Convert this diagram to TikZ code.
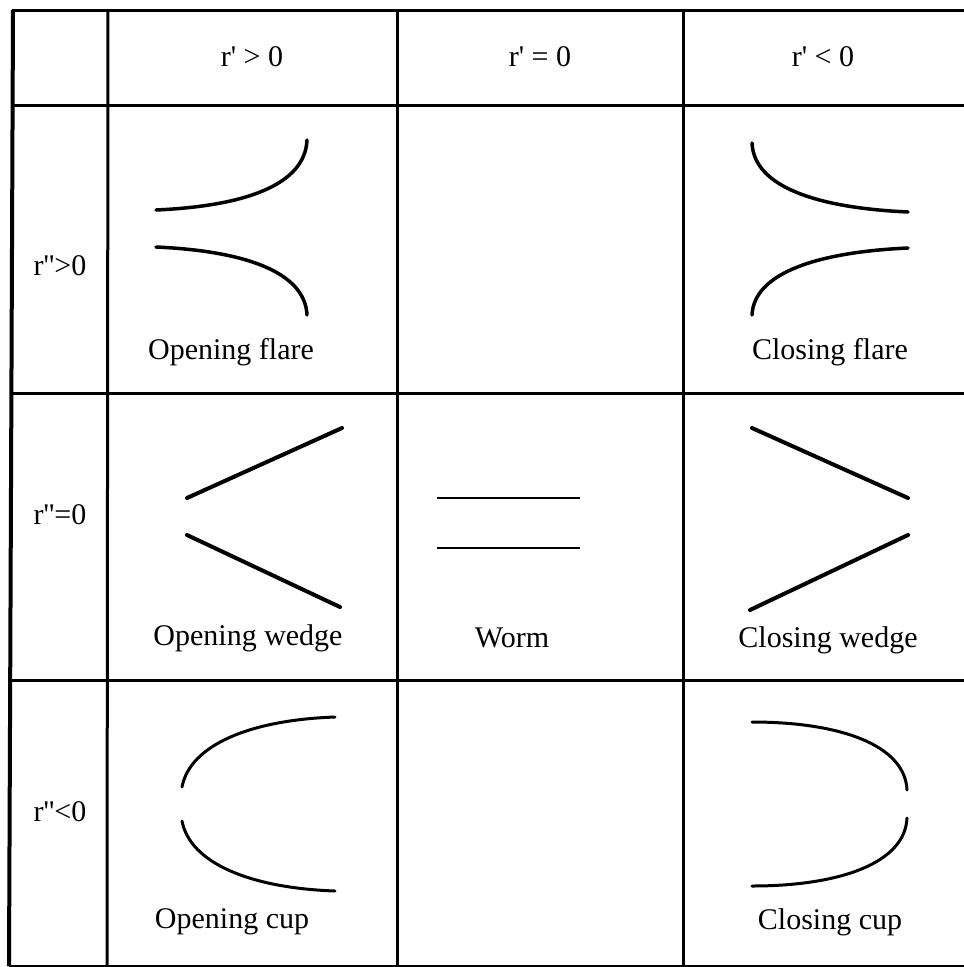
\documentclass[tikz,border=0pt]{standalone}
\usepackage{fontspec}
\setmainfont{Liberation Serif}[Ligatures=TeXOff]

\begin{document}
\begin{tikzpicture}[
  x=1pt, y=-1pt,
  regel/.style={line width=3pt},
  kop/.style={font=\fontsize{30}{36}\selectfont},
  naam/.style={font=\fontsize{30}{36}\selectfont},
  vorm/.style={line width=3.5pt, line cap=round},
  wig/.style={line width=4pt, line cap=round},
  dun/.style={line width=2pt},
  kom/.style={line width=3pt, line cap=round}
]
\useasboundingbox (0,0) rectangle (964,967);
% raster
\draw[regel] (12,10) -- (966,10);
\draw[regel] (12,105) -- (966,105);
\draw[regel] (11,393) -- (966,393);
\draw[regel] (10,680) -- (966,680);
\draw[regel] (9,966) -- (966,966);
\draw[line width=4pt] (13,10) -- (9,966);
\draw[regel] (108,10) -- (107,966);
\draw[regel] (397,10) -- (397,966);
\draw[regel] (683,10) -- (683,966);
% koppen
\node[kop] (k1) at (252,57) {r' > 0};
\node[kop] (k2) at (540,57) {r' = 0};
\node[kop] (k3) at (823,57) {r' < 0};
\node[kop] (r1) at (60,266) {r''>0};
\node[kop] (r2) at (60,515) {r''=0};
\node[kop] (r3) at (60,812) {r''<0};
% flare
\draw[vorm] (156,210) .. controls (245,206) and (305,185) .. (307,140);
\draw[vorm] (156,247) .. controls (245,251) and (305,272) .. (307,315);
\draw[vorm] (908,212) .. controls (820,208) and (754,188) .. (752,143);
\draw[vorm] (908,248) .. controls (820,252) and (754,272) .. (752,315);
\node[naam] (n1) at (231,352) {Opening flare};
\node[naam] (n3) at (830,352) {Closing flare};
% wedge
\draw[wig] (187,498) -- (342,428);
\draw[wig] (187,535) -- (340,607);
\draw[wig] (752,428) -- (908,498);
\draw[wig] (750,610) -- (908,535);
\draw[dun] (437,498) -- (580,498);
\draw[dun] (437,548) -- (580,548);
\node[naam] (n4) at (248,638) {Opening wedge};
\node[naam] (n5) at (512,638) {Worm};
\node[naam] (n6) at (828,640) {Closing wedge};
% cup
\draw[kom] (182,787) .. controls (190,745) and (250,720) .. (335,717);
\draw[kom] (182,821) .. controls (190,863) and (250,888) .. (335,891);
\draw[kom] (752,722) .. controls (840,722) and (905,745) .. (907,790);
\draw[kom] (752,886) .. controls (840,886) and (905,863) .. (907,818);
\node[naam] (n7) at (232,922) {Opening cup};
\node[naam] (n9) at (830,922) {Closing cup};
\end{tikzpicture}
\end{document}
